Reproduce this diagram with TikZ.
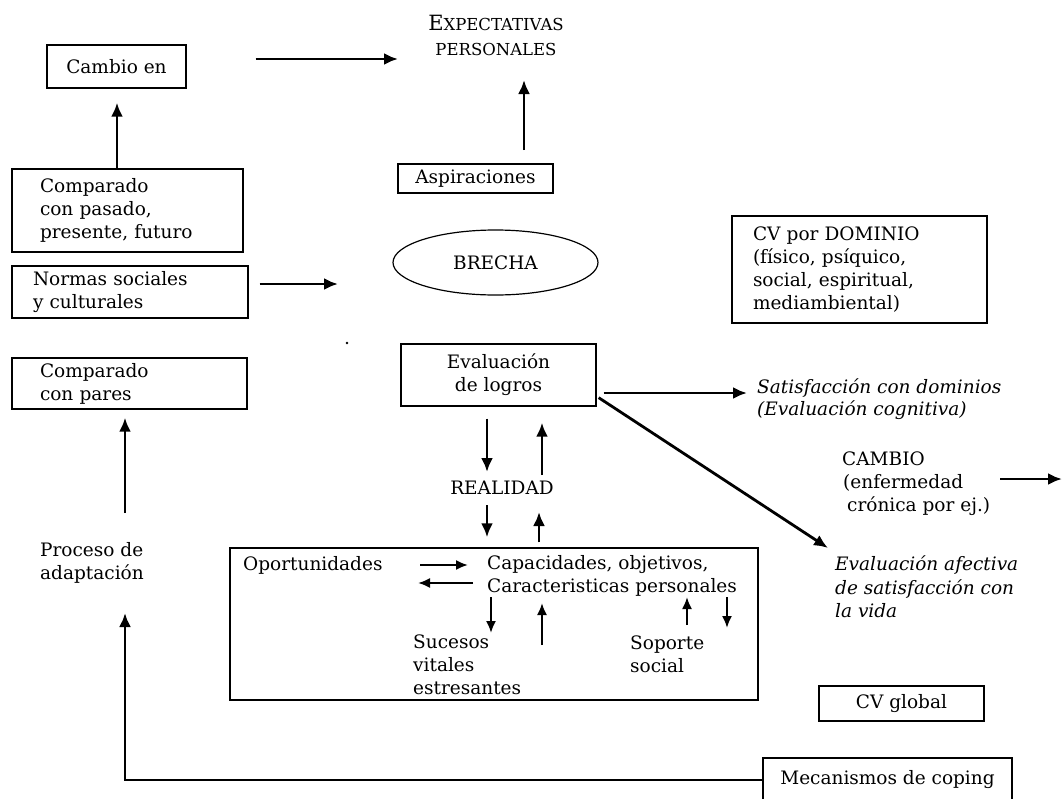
\documentclass[tikz,border=0pt]{standalone}
\usepackage{fontspec}
\setmainfont{DejaVu Serif}
\usetikzlibrary{arrows.meta,calc,shapes.geometric}
\begin{document}
\begin{tikzpicture}[x=1pt,y=-1pt,
  txt/.style={font=\fontsize{18.5}{23}\selectfont, inner sep=0pt},
  box/.style={txt, draw, line width=1.3pt},
  lbox/.style={box, align=left},
  arr/.style={line width=2.8pt, -{Latex[length=14pt,width=12pt]}},
  thin arr/.style={line width=2pt, -{Latex[length=12pt,width=10pt]}},
]
\useasboundingbox (0,0) rectangle (1063,798);

% left column
\node[box, minimum width=139pt, minimum height=43pt] (cambio) at (116.5,66.5) {Cambio en};
\node[lbox, text width=175pt, inner xsep=28pt, minimum height=83pt] (pasado) at (127.5,210.5)
  {Comparado\\con pasado,\\presente, futuro};
\node[lbox, text width=194pt, inner xsep=21pt, minimum height=52pt] (normas) at (130,292)
  {Normas sociales\\y culturales};
\node[lbox, text width=179pt, inner xsep=28pt, minimum height=51pt] (pares) at (129.5,383.5)
  {Comparado\\con pares};
\node[txt, anchor=west, align=left] (proceso) at (40,563) {Proceso de\\adaptación};

% centre column
\node[txt, align=center, font=\fontsize{16.5}{25}\selectfont] (expect) at (496,35)
  {{\fontsize{21}{25}\selectfont E}XPECTATIVAS\\PERSONALES};
\node[box, minimum width=155pt, minimum height=29pt] (aspir) at (475.5,178.5) {Aspiraciones};
\node[txt, draw, ellipse, line width=1.2pt, minimum width=205pt, minimum height=65pt] (brecha) at (495.5,262.5) {BRECHA};
\fill (347,343) circle (1.3);
\node[box, align=center, minimum width=195pt, minimum height=62pt] (evalua) at (498.5,375)
  {Evaluación\\de logros};
\node[txt] (realidad) at (502,488) {REALIDAD};

% environment box
\node[draw, line width=1.3pt, minimum width=528pt, minimum height=152pt, inner sep=0pt] (entorno) at (494,624) {};
\node[txt, anchor=west] (oport) at (243,565) {Oportunidades};
\node[txt, anchor=west, align=left] (capac) at (487,576)
  {Capacidades, objetivos,\\Caracteristicas personales};
\node[txt, anchor=west, align=left] (sucesos) at (413,665)
  {Sucesos\\vitales\\estresantes};
\node[txt, anchor=west, align=left] (soporte) at (630,654) {Soporte\\social};

% right column
\node[lbox, text width=213pt, inner xsep=21pt, minimum height=107pt] (cvdom) at (859.5,269.5)
  {CV por DOMINIO\\(físico, psíquico,\\social, espiritual,\\mediambiental)};
\node[txt, anchor=west, align=left, font=\fontsize{18.5}{22}\selectfont\itshape] (satisf) at (757,399)
  {Satisfacción con dominios\\(Evaluación cognitiva)};
\node[txt, anchor=west, align=left] (cambio2) at (842,484)
  {CAMBIO\\\hspace{1pt}(enfermedad\\\hspace{5pt}crónica por ej.)};
\coordinate (fuera) at (1062,479);
\node[txt, anchor=west, align=left, font=\fontsize{18.5}{23.5}\selectfont\itshape] (afectiva) at (835,587)
  {Evaluación afectiva\\de satisfacción con\\la vida};
\node[box, minimum width=165pt, minimum height=35pt] (cvglob) at (901.5,703.5) {CV global};
\node[box, minimum width=249pt, minimum height=44pt] (coping) at (887.5,780) {Mecanismos de coping};

% connectors
\draw[arr] ($(cambio.east)+(69,-7.5)$) -- ($(expect)+(-98,24)$);
\draw[arr] ($(aspir)+(48.5,-28.5)$) -- ($(expect)+(28,45)$);
\draw[arr] ($(pasado.north)+(-10.5,0)$) -- ($(cambio.south)+(0.5,14)$);
\draw[arr] ($(normas.east)+(11,-8)$) -- ($(brecha)+(-157.5,21.5)$);

\draw[arr] ($(evalua.south)+(-11.5,12)$) -- ($(realidad)+(-15,-16)$);
\draw[arr] ($(realidad)+(40,-13)$) -- ($(evalua.south)+(43.5,16)$);
\draw[arr] ($(realidad)+(-15,17)$) -- ($(entorno.north)+(-7,-10)$);
\draw[arr] ($(entorno.north)+(45,-5)$) -- ($(realidad)+(37,24)$);

\draw[thin arr] ($(oport.west)+(177,0)$) -- ($(capac.west)+(-19,-11)$);
\draw[thin arr] ($(capac.west)+(-14,7)$) -- ($(oport.west)+(175,18)$);
\draw[thin arr] ($(capac.west)+(4,21)$) -- ($(sucesos.west)+(78,-32)$);
\draw[thin arr] ($(sucesos.west)+(129,-20)$) -- ($(capac.west)+(55,27)$);
\draw[thin arr] ($(soporte.west)+(57,-29)$) -- ($(capac.west)+(200,21)$);
\draw[thin arr] ($(capac.west)+(240,21)$) -- ($(soporte.west)+(97,-26)$);

\draw[arr] ($(evalua.east)+(7,18)$) -- ($(satisf.west)+(-10,-6)$);
\draw[arr] ($(evalua.south east)+(2,-9)$) -- ($(afectiva.west)+(-7,-39)$);
\draw[arr] ($(cambio2.west)+(158,-5)$) -- (fuera);

\draw[arr] ($(proceso.west)+(85,-50)$) -- ($(pares.south)+(-4.5,8)$);
\draw[arr] (coping.west) -| ($(proceso.west)+(85,50)$);
\end{tikzpicture}
\end{document}
